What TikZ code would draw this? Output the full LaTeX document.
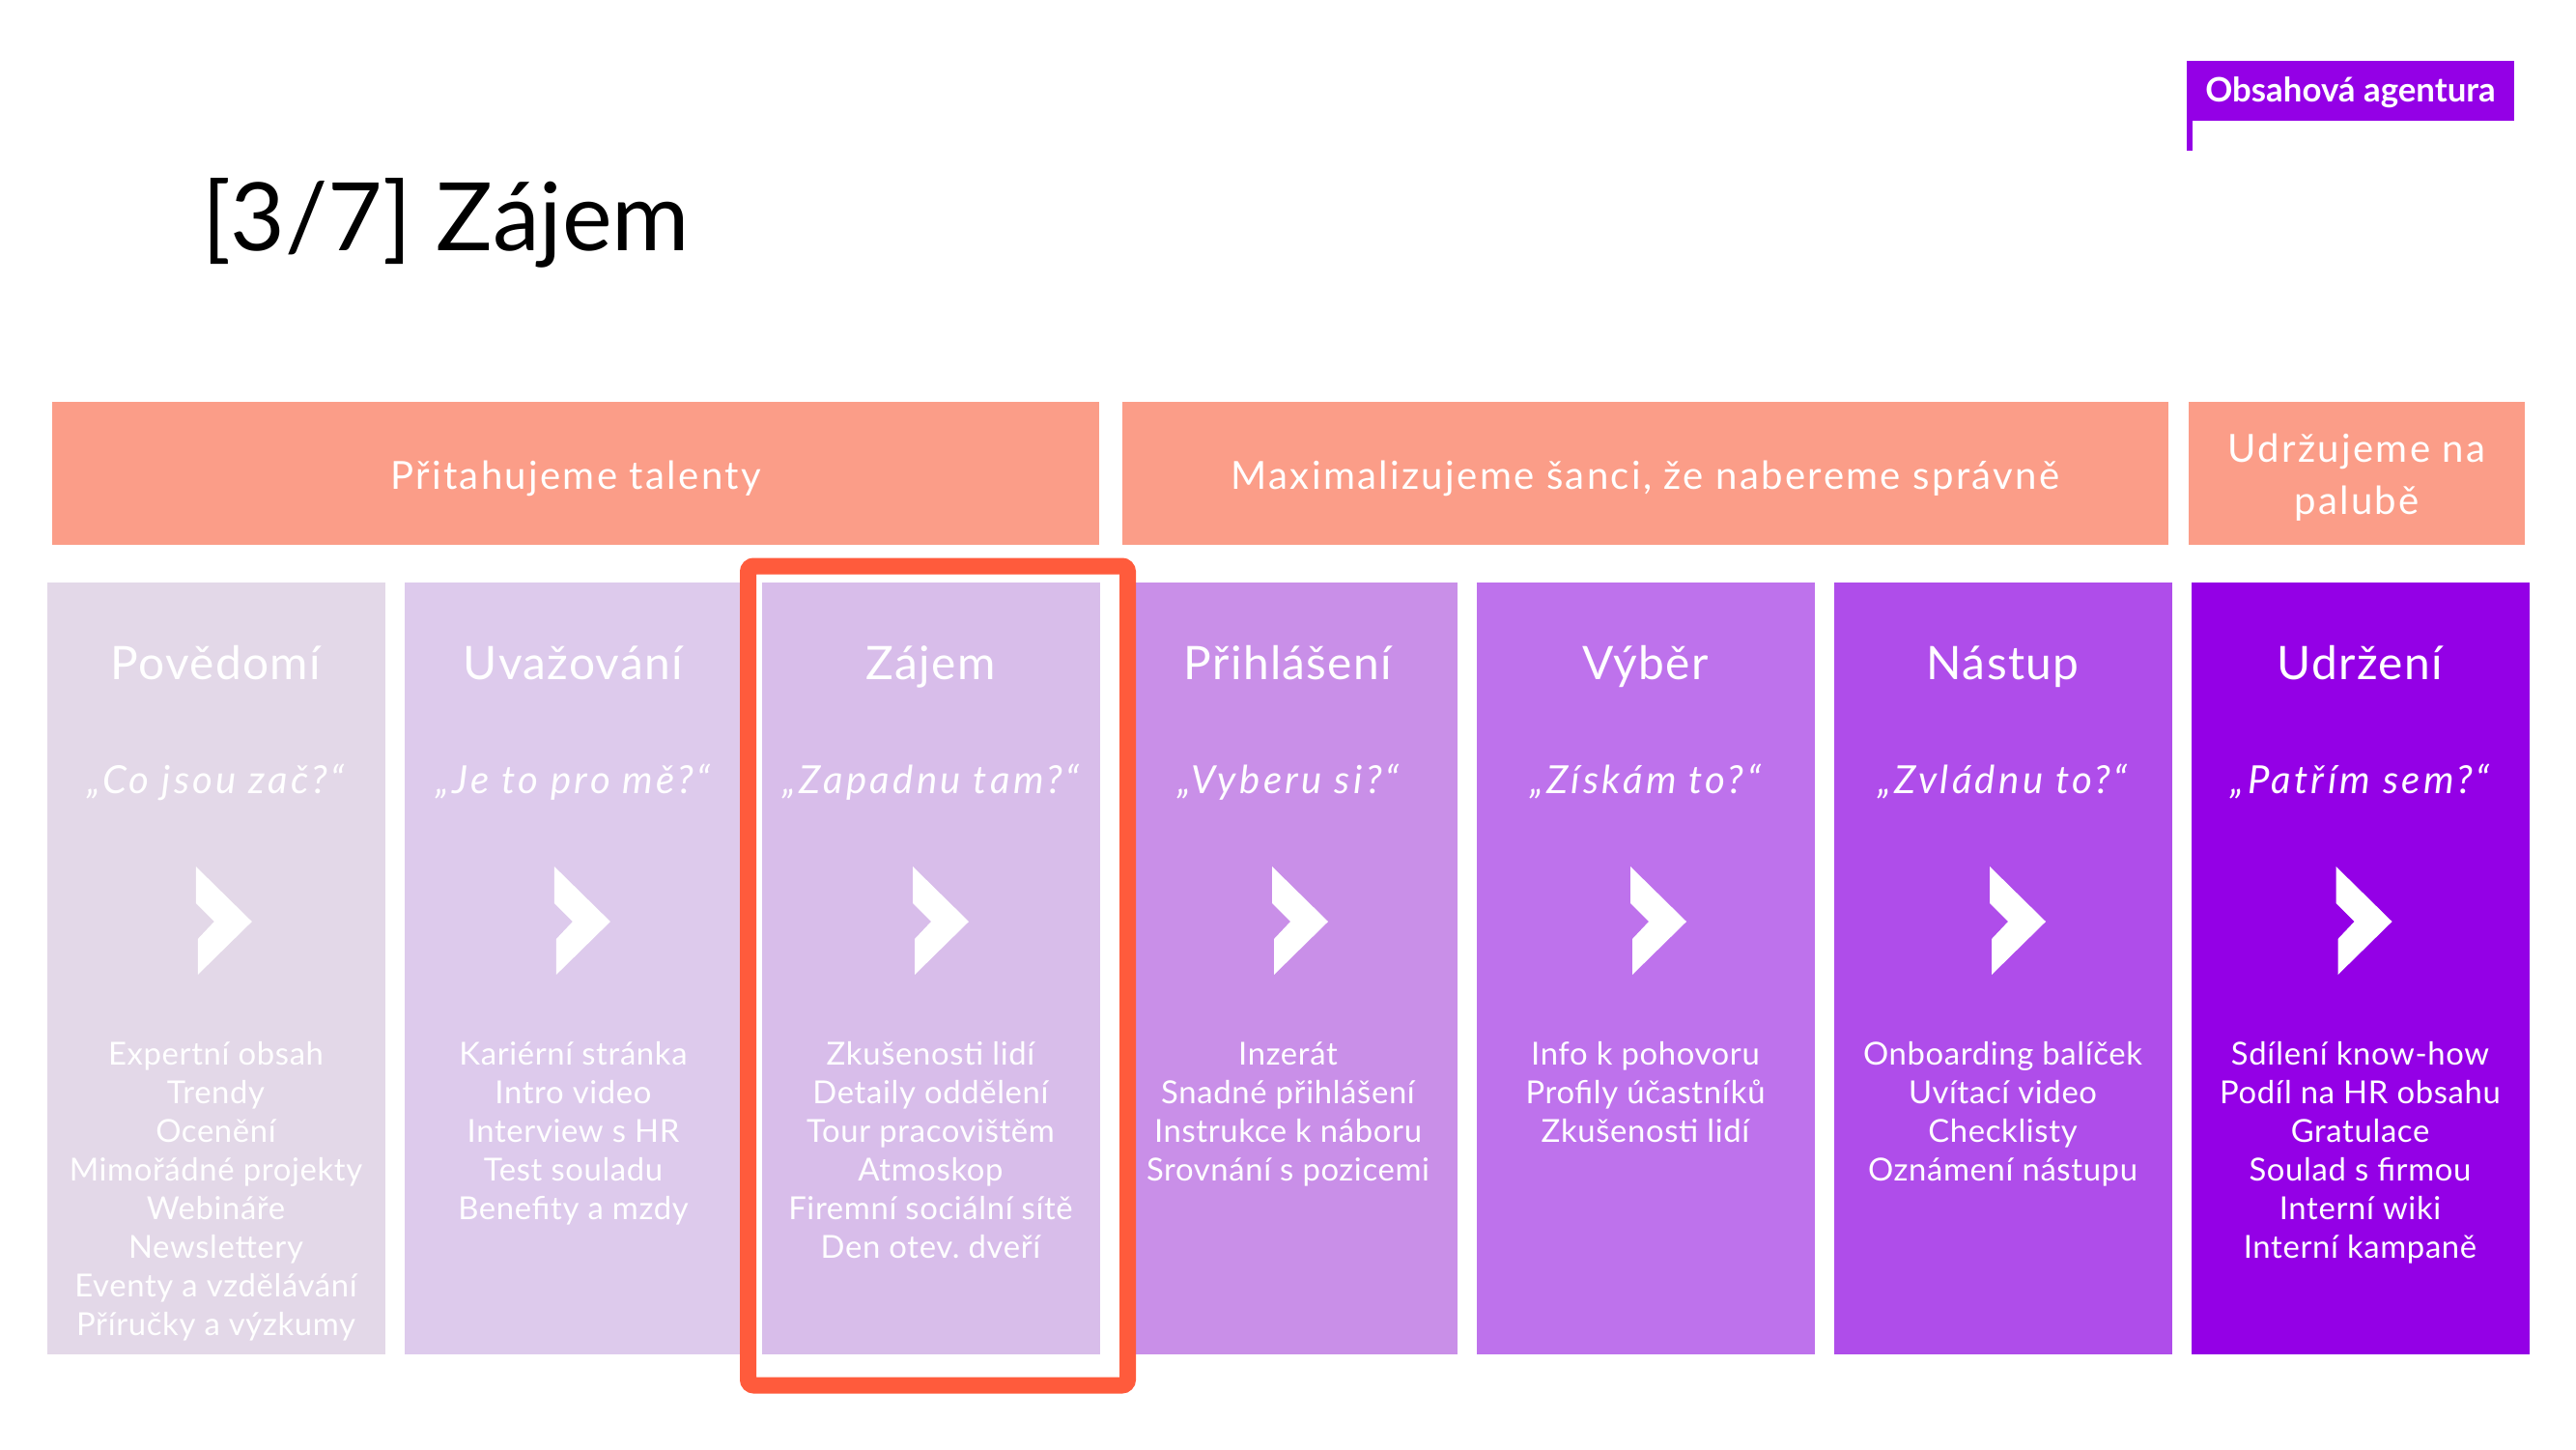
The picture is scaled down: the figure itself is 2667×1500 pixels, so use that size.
\documentclass[tikz,border=0pt]{standalone}
\usepackage{fontspec}
\setmainfont{Lato}
\frenchspacing
\definecolor{col1}{RGB}{227,216,232}
\definecolor{col2}{RGB}{221,202,236}
\definecolor{col3}{RGB}{216,189,234}
\definecolor{col4}{RGB}{201,143,232}
\definecolor{col5}{RGB}{190,114,236}
\definecolor{col6}{RGB}{175,77,234}
\definecolor{col7}{RGB}{148,0,230}
\definecolor{salmon}{RGB}{251,157,136}
\definecolor{hilite}{RGB}{255,91,60}
\definecolor{agent}{RGB}{148,0,230}
\begin{document}
\begin{tikzpicture}[x=0.01cm,y=-0.01cm,
  txt/.style={inner sep=0pt,outer sep=0pt,text=white,anchor=base},
  titletxt/.style={txt,text=black,anchor=base west,font=\fontsize{27.8}{30}\selectfont},
  tagtxt/.style={txt,font=\bfseries\fontsize{9.9}{12}\selectfont},
  headtxt/.style={txt,font=\fontsize{11.4}{14}\selectfont\addfontfeatures{LetterSpace=5.8}},
  coltitle/.style={txt,font=\fontsize{13.6}{16}\selectfont\addfontfeatures{LetterSpace=2.8}},
  quotetxt/.style={txt,font=\itshape\fontsize{11.4}{13}\selectfont\addfontfeatures{LetterSpace=8.5}},
  itemtxt/.style={txt,font=\fontsize{9.33}{11.4}\selectfont\addfontfeatures{LetterSpace=2}},
  chev/.style={fill=white,draw=none},
  redframe/.style={draw=hilite,line width=0.17cm,rounded corners=0.06cm}]
\useasboundingbox (0,0) rectangle (2667,1500);
\fill[white] (0,0) rectangle (2667,1500);

% title
\node[titletxt] (title) at (209,259) {[3/7] Zájem};

% tag
\fill[agent] (2264,63) rectangle (2603,125);
\fill[agent] (2264,125) rectangle (2270,156);
\node[tagtxt] (tag) at (2433.5,106) {Obsahová agentura};

% header bars
\fill[salmon] (54,416) rectangle (1138,564);
\fill[salmon] (1162,416) rectangle (2245,564);
\fill[salmon] (2266,416) rectangle (2614,564);
\node[headtxt] (h1) at (596,506) {Přitahujeme talenty};
\node[headtxt] (h2) at (1703.5,506) {Maximalizujeme šanci, že nabereme správně};
\node[headtxt] (h3a) at (2440,478) {Udržujeme na};
\node[headtxt] (h3b) at (2440,532) {palubě};

% columns
\foreach \i/\ttl/\q/\items/\off in {
 1/Povědomí/{„Co jsou zač?“}/{Expertní obsah,Trendy,Ocenění,Mimořádné projekty,Webináře,Newslettery,Eventy a vzdělávání,Příručky a výzkumy}/-20.7,
 2/Uvažování/{„Je to pro mě?“}/{Kariérní stránka,Intro video,Interview s HR,Test souladu,Benefity a mzdy}/-19.6,
 3/Zájem/{„Zapadnu tam?“}/{Zkušenosti lidí,Detaily oddělení,Tour pracovištěm,Atmoskop,Firemní sociální sítě,Den otev. dveří}/-18.5,
 4/Přihlášení/{„Vyberu si?“}/{Inzerát,Snadné přihlášení,Instrukce k náboru,Srovnání s pozicemi}/-16.5,
 5/Výběr/{„Získám to?“}/{Info k pohovoru,Profily účastníků,Zkušenosti lidí}/-15.5,
 6/Nástup/{„Zvládnu to?“}/{Onboarding balíček,Uvítací video,Checklisty,Oznámení nástupu}/-13.5,
 7/Udržení/{„Patřím sem?“}/{Sdílení know-how,Podíl na HR obsahu,Gratulace,Soulad s firmou,Interní wiki,Interní kampaně}/-25}{
  \pgfmathsetmacro{\lx}{48.5+370*(\i-1)}
  \pgfmathsetmacro{\cx}{\lx+175}
  \pgfmathsetmacro{\chx}{\cx+\off}
  \fill[col\i] (\lx,603) rectangle ++(350,798.6);
  \fill[chev] (\chx,897) -- ++(58,57) -- ++(-56,55) -- ++(0,-37) -- ++(17,-18) -- ++(-19,-19) -- cycle;
  \node[coltitle] (t\i) at (\cx,703) {\ttl};
  \node[quotetxt] (q\i) at (\cx,821) {\q};
  \foreach \t [count=\k] in \items {
    \node[itemtxt] (it\i-\k) at (\cx,{1102+40*(\k-1)}) {\t};
  }
}

% highlight frame
\draw[redframe] (774.5,586) rectangle (1167.5,1434);
\end{tikzpicture}
\end{document}
